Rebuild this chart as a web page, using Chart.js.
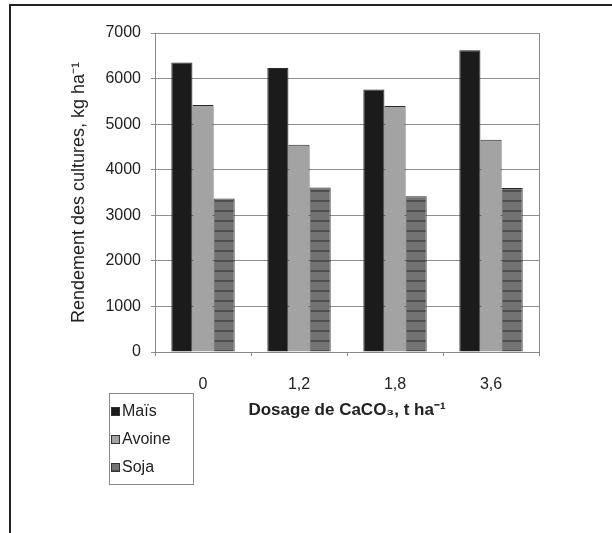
<!DOCTYPE html>
<html>
<head>
<meta charset="utf-8">
<script src="https://cdn.jsdelivr.net/npm/chart.js@4"></script>
<style>
  html, body { margin: 0; padding: 0; background: #fff; }
  #wrap { position: relative; width: 612px; height: 533px; }
  #frame { position: absolute; left: 9px; top: 4px; right: 0; bottom: 0;
           border-top: 2px solid #222; border-left: 2px solid #222; }
  canvas { position: absolute; left: 0; top: 0; }
</style>
</head>
<body>
<div id="wrap">
  <div id="frame"></div>
  <canvas id="chart" width="612" height="533"></canvas>
</div>
<script>
const doses = ['0', '1,2', '1,8', '3,6'];
const seriesNames = ['Maïs', 'Avoine', 'Soja'];
const mais = [6350, 6230, 5760, 6620];
const avoine = [5420, 4550, 5400, 4660];
const soja = [3370, 3610, 3420, 3600];
const yTicks = [0, 1000, 2000, 3000, 4000, 5000, 6000, 7000];

// striped fill for the soja bars
function stripes() {
    const c = document.createElement('canvas');
    c.width = 4; c.height = 10;
    const g = c.getContext('2d');
    g.fillStyle = '#727272';
    g.fillRect(0, 0, 4, 10);
    g.fillStyle = '#4e4e4e';
    g.fillRect(0, 0, 4, 2);
    return g.createPattern(c, 'repeat');
}

const fills = ['#1b1b1b', '#a3a3a3', stripes()];
const family = '"Liberation Sans", Arial, sans-serif';
const font = { family: family, size: 16 };

// legend box + right border of plot area
const extras = {
    id: 'extras',
    afterDraw(chart) {
        const { ctx, chartArea } = chart;
        ctx.save();
        ctx.strokeStyle = '#8a8a8a';
        ctx.lineWidth = 1;
        ctx.beginPath();
        ctx.moveTo(chartArea.right + 0.5, chartArea.top);
        ctx.lineTo(chartArea.right + 0.5, chartArea.bottom);
        ctx.stroke();

        ctx.strokeRect(109.5, 393.5, 84, 91);
        ctx.font = '16px ' + family;
        ctx.textBaseline = 'middle';
        chart.data.datasets.forEach((ds, i) => {
            const y = 411 + i * 28;
            ctx.fillStyle = ds.backgroundColor;
            ctx.fillRect(111, y - 4, 9, 9);
            ctx.strokeStyle = '#333';
            ctx.strokeRect(111.5, y - 3.5, 8, 8);
            ctx.fillStyle = '#222';
            ctx.fillText(ds.label, 122, y + 1);
        });
        ctx.restore();
    }
};

new Chart(document.getElementById('chart'), {
    type: 'bar',
    data: {
        labels: doses,
        datasets: [mais, avoine, soja].map((d, i) => ({
            label: seriesNames[i],
            data: d,
            backgroundColor: fills[i],
            borderColor: '#2a2a2a',
            borderWidth: 1,
            barPercentage: 1,
            categoryPercentage: 0.66
        }))
    },
    options: {
        responsive: false,
        animation: false,
        layout: { padding: { left: 64, right: 73, top: 33, bottom: 108 } },
        scales: {
            x: {
                grid: { drawOnChartArea: false, tickLength: 4, color: '#888' },
                border: { color: '#888' },
                ticks: { color: '#222', font: font, padding: 19 },
                title: {
                    display: true,
                    text: 'Dosage de CaCO₃, t ha⁻¹',
                    color: '#222',
                    font: { family: family, size: 17, weight: 'bold' }
                },
                afterFit: s => { s.height = 73; }
            },
            y: {
                min: 0,
                max: 7000,
                afterBuildTicks: s => { s.ticks = yTicks.map(v => ({ value: v })); },
                grid: { color: '#8f8f8f', tickLength: 4 },
                border: { color: '#888' },
                ticks: { color: '#222', font: font, padding: 10, callback: v => String(v) },
                title: {
                    display: true,
                    text: 'Rendement des cultures, kg ha⁻¹',
                    color: '#222',
                    font: { family: family, size: 18 }
                },
                afterFit: s => { s.width = 91; }
            }
        },
        plugins: {
            legend: { display: false },
            tooltip: { enabled: false }
        }
    },
    plugins: [extras]
});
</script>
</body>
</html>
